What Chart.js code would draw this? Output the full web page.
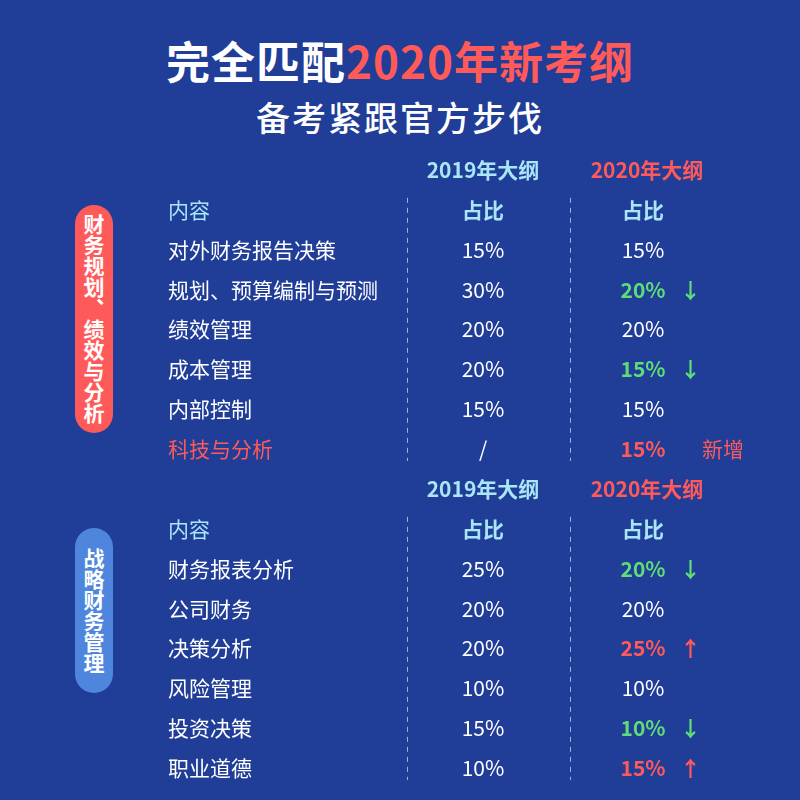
<!DOCTYPE html>
<html><head><meta charset="utf-8">
<script src="https://cdn.jsdelivr.net/npm/chart.js@4"></script>
<style>
html,body{margin:0;padding:0;background:#203d97;width:800px;height:800px;overflow:hidden;font-family:"Noto Sans CJK SC",sans-serif}
#t1{position:absolute;top:28px;width:800px;text-align:center;color:#fff;font-size:44px;font-weight:bold;letter-spacing:1px}
#t1 span{color:#ff5a5a}
#t2{position:absolute;top:92px;width:800px;text-align:center;color:#fff;font-size:34px;font-weight:500;letter-spacing:2px}
.pill{position:absolute;left:75px;width:38px;border-radius:19px;color:#fff;font-size:21px;font-weight:bold;writing-mode:vertical-rl;text-orientation:upright;display:flex;align-items:center;justify-content:center;line-height:38px}
#p1{top:205px;height:228px;background:#ff5a5a}
#p2{top:528px;height:165px;background:#4d86dc}
canvas{position:absolute;left:0;top:0}
</style></head><body>
<div id="t1">完全匹配<span>2020年新考纲</span></div>
<div id="t2">备考紧跟官方步伐</div>
<div class="pill" id="p1">财务规划、绩效与分析</div>
<div class="pill" id="p2">战略财务管理</div>
<div style="position:absolute;left:0;top:0;width:800px;height:800px"><canvas id="c"></canvas></div>
<script>
const rowLabels=['H','内容','对外财务报告决策','规划、预算编制与预测','绩效管理','成本管理','内部控制','科技与分析',
'H','内容','财务报表分析','公司财务','决策分析','风险管理','投资决策','职业道德'];
const col2019=['2019年大纲','占比','15%','30%','20%','20%','15%','/','2019年大纲','占比','25%','20%','20%','10%','15%','10%'];
const col2020=['2020年大纲','占比','15%','20%','20%','15%','15%','15%','2020年大纲','占比','20%','20%','25%','10%','10%','15%'];
const change=['','','','down','','down','','new','','','down','','up','','down','up'];
const colX={label:168,c2019:483,c2020:643,mark:688};
const WHITE='#ffffff',RED='#ff5a5a',GREEN='#5edc78',CYAN='#a8e6f8';
const tablePlugin={id:'table',afterDatasetsDraw(ch){
 const c=ch.ctx,x=ch.scales.x,y=ch.scales.y;
 c.save();c.textBaseline='middle';
 const F=(b)=>(b?'bold ':'')+'21px "Noto Sans CJK SC"';
 rowLabels.forEach((lab,i)=>{
  const py=y.getPixelForValue(i);
  if(lab==='H'){
   c.font=F(true);c.textAlign='center';
   c.fillStyle=CYAN;c.fillText(col2019[i],x.getPixelForValue(colX.c2019),py);
   c.fillStyle=RED;c.fillText(col2020[i],x.getPixelForValue(colX.c2020+4),py);
   return;
  }
  const hdr=lab==='内容';const ch2=change[i];
  c.textAlign='left';c.font=F(false);
  c.fillStyle=hdr?CYAN:(ch2==='new'?RED:WHITE);
  c.fillText(lab,x.getPixelForValue(colX.label),py);
  c.textAlign='center';c.font=F(hdr);c.fillStyle=hdr?CYAN:WHITE;
  c.fillText(col2019[i],x.getPixelForValue(colX.c2019),py);
  let col=hdr?CYAN:WHITE,bold=hdr;
  if(ch2==='down'){col=GREEN;bold=true}
  if(ch2==='up'||ch2==='new'){col=RED;bold=true}
  c.font=F(bold);c.fillStyle=col;
  c.fillText(col2020[i],x.getPixelForValue(colX.c2020),py);
  c.fillStyle=col;c.textAlign='left';
  if(ch2==='down')c.fillText('↓',x.getPixelForValue(colX.mark-8),py);
  if(ch2==='up')c.fillText('↑',x.getPixelForValue(colX.mark-8),py);
  if(ch2==='new'){c.font=F(false);c.fillText('新增',x.getPixelForValue(colX.mark+14),py);}
 });
 c.strokeStyle='rgba(255,255,255,0.6)';c.lineWidth=1;c.setLineDash([5,5]);
 [[1,7],[9,15]].forEach(([a,b])=>{
  [407,570].forEach(v=>{c.beginPath();const px=x.getPixelForValue(v)+0.5;
   c.moveTo(px,y.getPixelForValue(a)-12);c.lineTo(px,y.getPixelForValue(b)+12);c.stroke();});
 });
 c.restore();
}};
new Chart(document.getElementById('c'),{
 type:'scatter',
 data:{datasets:[{data:rowLabels.map((l,i)=>({x:colX.c2019,y:i})),pointRadius:0}]},
 options:{responsive:true,maintainAspectRatio:false,animation:false,
  layout:{padding:{top:150,bottom:12,left:0,right:0}},
  plugins:{legend:{display:false},tooltip:{enabled:false}},
  scales:{x:{type:'linear',min:0,max:800,display:false},
   y:{type:'category',labels:rowLabels.map((l,i)=>i),offset:true,display:false}}},
 plugins:[tablePlugin]});
</script></body></html>
